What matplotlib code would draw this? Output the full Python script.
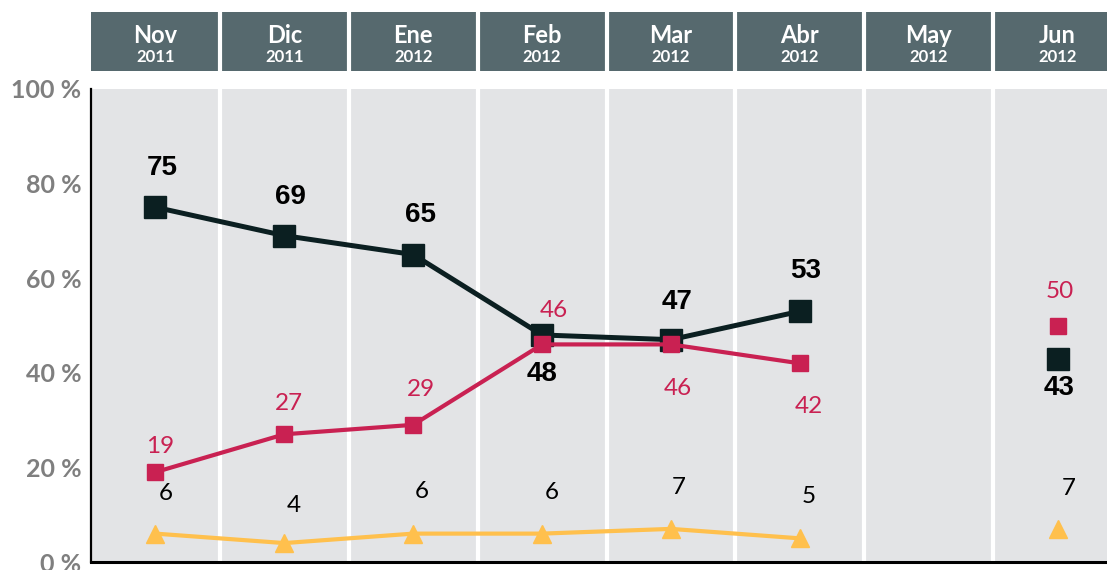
import matplotlib.pyplot as plt
import numpy as np

# data
months = ['Nov', 'Dic', 'Ene', 'Feb', 'Mar', 'Abr', 'May', 'Jun']
years = ['2011', '2011', '2012', '2012', '2012', '2012', '2012', '2012']
serie_negra = [75, 69, 65, 48, 47, 53, np.nan, 43]
serie_roja = [19, 27, 29, 46, 46, 42, np.nan, 50]
serie_amarilla = [6, 4, 6, 6, 7, 5, np.nan, 7]
yticks = [0, 20, 40, 60, 80, 100]

# label offsets (pixels, +y is up)
off_negra = [(7, 39), (6, 39), (7, 40), (0, -39), (6, 38), (6, 40), (0, 0), (1, -29)]
off_roja = [(5, 26), (5, 31), (8, 35), (12, 34), (7, -44), (9, -43), (0, 0), (2, 34)]
off_amarilla = [(10, 40), (9, 38), (9, 42), (10, 41), (8, 41), (9, 42), (0, 0), (11, 40)]

c_negro = '#0b1f21'
c_rojo = '#c92152'
c_amarillo = '#ffc04d'
c_panel = '#e3e4e6'
c_header = '#56696e'
c_tick = '#7f7f7f'

W, H = 1107, 570
fig = plt.figure(figsize=(W / 100, H / 100), dpi=100)
left = 91 / W
width = 1031 / W

ax = fig.add_axes([left, (H - 562) / H, width, (562 - 89) / H])
hx = fig.add_axes([left, (H - 71) / H, width, 59 / H])

x = np.arange(len(months))
for a in (ax, hx):
    a.set_xlim(-0.5, len(months) - 0.5)
    for i in x:
        a.axvspan(i - 0.5, i + 0.5, color=c_panel if a is ax else c_header, lw=0, zorder=0)
        if i < len(months) - 1:
            a.axvline(i + 0.5, color='white', lw=3, zorder=1)

# header
hx.set_ylim(0, 1)
hx.axis('off')
for i, (m, yr) in enumerate(zip(months, years)):
    hx.text(i, 0.47, m, ha='center', va='baseline', color='white',
            fontfamily='Lato', fontweight='bold', fontsize=17)
    hx.text(i, 0.16, yr, ha='center', va='baseline', color='white',
            fontfamily='Lato', fontweight='bold', fontsize=12)

# lines
ax.plot(x, serie_amarilla, color=c_amarillo, lw=3, marker='^', ms=13, zorder=3)
ax.plot(x, serie_negra, color=c_negro, lw=3.6, marker='s', ms=15.8, zorder=4)
ax.plot(x, serie_roja, color=c_rojo, lw=3, marker='s', ms=11.5, zorder=5)

def etiquetas(vals, offs, color, **kw):
    for i, (v, (dx, dy)) in enumerate(zip(vals, offs)):
        if np.isnan(v):
            continue
        ax.annotate(str(int(v)), (i, v), xytext=(dx * 0.72, dy * 0.72),
                    textcoords='offset points', ha='center', va='center',
                    color=color, zorder=6, **kw)

etiquetas(serie_negra, off_negra, 'black', fontfamily='Liberation Sans',
          fontweight='bold', fontsize=20)
etiquetas(serie_roja, off_roja, c_rojo, fontfamily='Lato', fontsize=17.5)
etiquetas(serie_amarilla, off_amarilla, 'black', fontfamily='Lato', fontsize=17.5)

ax.set_ylim(0, 100)
ax.set_yticks(yticks)
ax.set_yticklabels([f'{v} %' for v in yticks], color=c_tick,
                   fontfamily='Lato', fontweight='bold', fontsize=18)
ax.tick_params(axis='y', length=0, pad=7)
ax.set_xticks([])
for s in ('top', 'right'):
    ax.spines[s].set_visible(False)
ax.spines['left'].set_linewidth(1.6)
ax.spines['bottom'].set_linewidth(2.2)
ax.spines['left'].set_zorder(7)
ax.spines['bottom'].set_zorder(7)

fig.savefig('out.png', dpi=100)
